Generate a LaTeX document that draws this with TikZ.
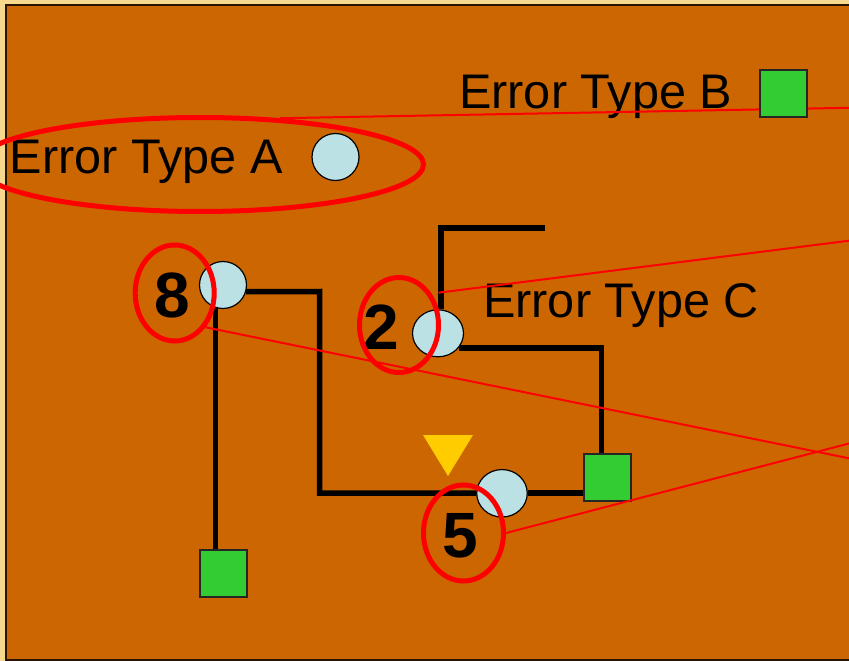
\documentclass[tikz,border=0pt]{standalone}
\usepackage{fontspec}
\setmainfont{Liberation Sans}
\usetikzlibrary{shapes.geometric}

\definecolor{paper}{HTML}{F6D98C}
\definecolor{panel}{HTML}{CC6600}
\definecolor{bulb}{HTML}{BCE1E5}
\definecolor{boxgreen}{HTML}{33CC33}
\definecolor{warn}{HTML}{FFCC00}
\definecolor{mark}{HTML}{FF0000}

\tikzset{
  legendtext/.style={font=\fontsize{48.6}{48.6}\selectfont, inner sep=0, anchor=base west},
  digit/.style={font=\fontsize{64}{64}\selectfont\bfseries, inner sep=0},
  bulbround/.style={circle, draw=black, line width=1.2, fill=bulb, minimum size=47, inner sep=0},
  bulboval/.style={ellipse, draw=black, line width=1.2, fill=bulb, inner sep=0},
  module/.style={rectangle, draw=black!85, line width=1.5, fill=boxgreen, minimum size=47, inner sep=0},
  wire/.style={draw=black, line width=5.5},
  ring/.style={ellipse, draw=mark, line width=5, inner sep=0},
  leader/.style={draw=mark, line width=2},
}

\begin{document}
\begin{tikzpicture}[x=1pt,y=-1pt]
  % page and panel
  \fill[paper] (0,0) rectangle (849,661);
  \useasboundingbox (0,0) rectangle (849,661);
  \clip (0,0) rectangle (849,661);
  \filldraw[fill=panel, draw=black!80!panel, line width=2] (6,5) rectangle (880,659.5);

  % legend and labels
  \node[legendtext] (tA) at (9.5,173.5) {Error Type A};
  \node[legendtext] (tB) at (459,108.5) {Error Type B};
  \node[legendtext] (tC) at (483,317.5) {Error Type C};
  \node[bulbround] (bA) at (335.5,157) {};

  % circuit elements
  \node[bulbround] (b8) at (223,285) {};
  \node[bulboval, minimum width=51, minimum height=47] (b2) at (438,333.3) {};
  \node[bulboval, minimum width=50.5, minimum height=47.5] (b5) at (502,493.3) {};
  \node[module] (sqR) at (607.3,477.3) {};
  \node[module] (sqL) at (223.3,573.5) {};
  \coordinate (stub) at (545,228);
  \coordinate (riser) at (441,228);

  % wiring
  \draw[wire] (b8.-16) -- (319.7,291.5) -- (319.7,493) -- (b5.west |- 0,493);
  \draw[wire] (b5.east |- 0,493) -- (sqR.west |- 0,493);
  \draw[wire] (b8.252) -- (b8.252 |- sqL.north);
  \draw[wire] (stub) -- (riser) -- (riser |- b2.north);
  \draw[wire] (b2.-35) -| ([xshift=-6pt]sqR.north);

  % warning marker
  \fill[warn] (423,435) -- (473,435) -- (448,476) -- cycle;

  % counts
  \node[digit] (n8) at (172.5,295) {8};
  \node[digit] (n2) at (381.5,327) {2};
  \node[digit] (n5) at (460.5,536) {5};

  % highlight rings
  \node[ring, minimum width=223.5*2, minimum height=94] (rA) at (200,164.5) {};
  \node[ring, minimum width=79, minimum height=96] (r8) at (174.7,293) {};
  \node[ring, minimum width=79, minimum height=95] (r2) at (399,325) {};
  \node[ring, minimum width=80, minimum height=96] (r5) at (463.5,533) {};

  % leaders running off to the right
  \coordinate (tap2) at (438.5,292.7);
  \coordinate (eA) at (849,107.8);
  \coordinate (e2) at (849,240.7);
  \coordinate (e5) at (849,443.5);
  \coordinate (e8) at (849,458.3);
  \draw[leader] (rA.30) -- (eA);
  \draw[leader] (tap2) -- (e2);
  \draw[leader] (r8.-48) -- (e8);
  \draw[leader] (r5.east) -- (e5);

  % legend module sits above its leader
  \node[module] (sqB) at (783.3,93.3) {};
\end{tikzpicture}
\end{document}
